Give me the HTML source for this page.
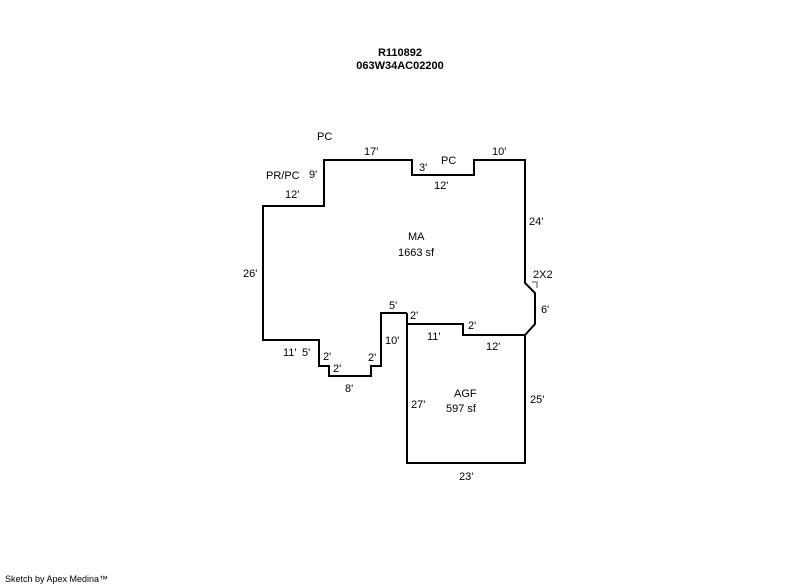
<!DOCTYPE html>
<html><head><style>
html,body{margin:0;padding:0;background:#fff;}
svg{display:block;}
text{font-family:"Liberation Sans",Arial,sans-serif;font-size:11px;fill:#000;}
</style></head><body>
<svg width="800" height="587" viewBox="0 0 800 587" xmlns="http://www.w3.org/2000/svg">
<text x="400" y="56" text-anchor="middle" font-weight="bold">R110892</text>
<text x="400" y="69" text-anchor="middle" font-weight="bold">063W34AC02200</text>
<g fill="none" stroke="#000" stroke-width="2">
<polyline points="407,313 407,324 463,324 463,335 525,335 535,324 535,293 525,283 525,160 474,160 474,175 412,175 412,160 324,160 324,206 263,206 263,340 319,340 319,366 329,366 329,376 371,376 371,366 381,366 381,313 407,313"/>
<polyline points="407,313 407,463 525,463 525,335"/>
</g>
<polyline points="532,282 537,282 537,288" fill="none" stroke="#888" stroke-width="1.5"/>
<text x="317" y="140">PC</text>
<text x="364" y="155">17'</text>
<text x="419" y="171">3'</text>
<text x="441" y="164">PC</text>
<text x="492" y="155">10'</text>
<text x="434" y="189">12'</text>
<text x="266" y="179">PR/PC</text>
<text x="309" y="178">9'</text>
<text x="285" y="198">12'</text>
<text x="529" y="225">24'</text>
<text x="408" y="240">MA</text>
<text x="398" y="256">1663 sf</text>
<text x="243" y="277">26'</text>
<text x="533" y="278">2X2</text>
<text x="541" y="313">6'</text>
<text x="389" y="309">5'</text>
<text x="410" y="319">2'</text>
<text x="468" y="329">2'</text>
<text x="427" y="340">11'</text>
<text x="385" y="344">10'</text>
<text x="486" y="350">12'</text>
<text x="283" y="356">11'</text>
<text x="302" y="356">5'</text>
<text x="323" y="360">2'</text>
<text x="333" y="372">2'</text>
<text x="368" y="361">2'</text>
<text x="345" y="392">8'</text>
<text x="454" y="397">AGF</text>
<text x="411" y="408">27'</text>
<text x="446" y="412">597 sf</text>
<text x="530" y="403">25'</text>
<text x="459" y="480">23'</text>
<text x="5" y="582" style="font-size:9px">Sketch by Apex Medina™</text>
</svg>
</body></html>
